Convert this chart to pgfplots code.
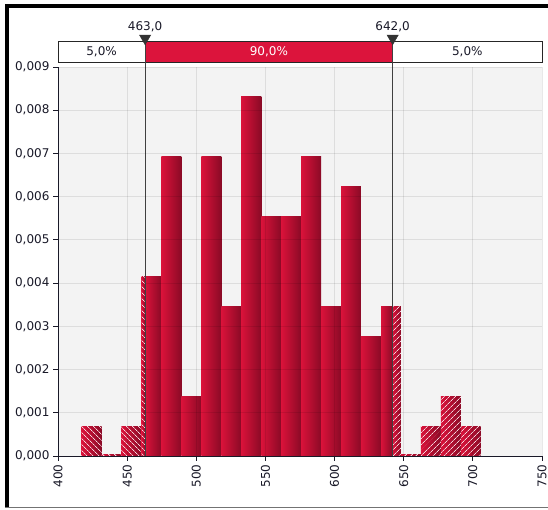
\documentclass[border=0pt]{standalone}
\usepackage{fontspec}
\setmainfont{DejaVu Sans}
\usepackage{pgfplots}
\pgfplotsset{compat=1.18}
\usetikzlibrary{patterns.meta}
\definecolor{crim}{RGB}{220,20,60}
\definecolor{barL}{RGB}{218,18,58}
\definecolor{barR}{RGB}{138,10,38}
\definecolor{bg}{RGB}{243,243,243}
\definecolor{txt}{RGB}{25,25,40}
\definecolor{hatch}{RGB}{245,215,222}
% one histogram bin: left edge, right edge, density
\newcommand{\sbar}[3]{\addplot[ybar interval, draw=none, left color=barL, right color=barR, forget plot] coordinates {(#1,#3) (#2,0)};}
\newcommand{\hbarL}[3]{\sbar{#1}{#2}{#3}\addplot[ybar interval, draw=none, pattern={Lines[angle=-45,distance=4pt,line width=0.8pt]}, pattern color=hatch, forget plot] coordinates {(#1,#3) (#2,0)};}
\newcommand{\hbarR}[3]{\sbar{#1}{#2}{#3}\addplot[ybar interval, draw=none, pattern={Lines[angle=45,distance=4pt,line width=0.8pt]}, pattern color=hatch, forget plot] coordinates {(#1,#3) (#2,0)};}
\begin{document}
\begin{tikzpicture}[x=1pt,y=1pt,font=\fontsize{12}{14}\selectfont]
\useasboundingbox (0,0) rectangle (548,510);
\fill[white] (0,0) rectangle (548,510);
\fill[black] (5,2) rectangle (8.5,506);
\fill[black] (5,502) rectangle (548,506);
\draw[black!55, line width=1.2pt] (5,2.3) -- (548,2.3);
\begin{axis}[
  at={(58pt,54pt)}, anchor=south west, scale only axis,
  width=484pt, height=389pt,
  xmin=400, xmax=750, ymin=0, ymax=0.009,
  axis x line*=bottom, axis y line*=left,
  axis line style={txt, line width=0.8pt},
  xtick={400,450,500,550,600,650,700,750},
  ytick={0,0.001,0.002,0.003,0.004,0.005,0.006,0.007,0.008,0.009},
  scaled y ticks=false,
  /pgf/number format/assume math mode=true,
  tick label style={font=\fontsize{12}{14}\selectfont, text=txt},
  yticklabel style={/pgf/number format/.cd, fixed, fixed zerofill, precision=3, use comma},
  xticklabel style={rotate=90, anchor=east, /pgf/number format/.cd, fixed, precision=0, 1000 sep={}},
  tick align=outside, major tick length=5pt,
  tick style={txt, line width=0.8pt},
  grid=major, grid style={black, opacity=0.09, line width=0.8pt},
  axis background/.style={fill=bg},
  axis on top, clip=false,
]
% left tail (hatched)
\hbarL{417.1}{431.5}{0.000693}
\hbarL{431.5}{445.9}{0.00004}
\hbarL{445.9}{460.4}{0.000693}
\hbarL{460.4}{463.0}{0.004158}
% central 90%
\sbar{463.0}{474.8}{0.004158}
\sbar{474.8}{489.3}{0.006930}
\sbar{489.3}{503.7}{0.001386}
\sbar{503.7}{518.1}{0.006930}
\sbar{518.1}{532.5}{0.003465}
\sbar{532.5}{547.0}{0.008316}
\sbar{547.0}{561.4}{0.005544}
\sbar{561.4}{575.8}{0.005544}
\sbar{575.8}{590.3}{0.006930}
\sbar{590.3}{604.7}{0.003465}
\sbar{604.7}{619.1}{0.006237}
\sbar{619.1}{633.6}{0.002772}
\sbar{633.6}{642.0}{0.003465}
% right tail (hatched)
\hbarR{642.0}{648.0}{0.003465}
\hbarR{648.0}{662.4}{0.00004}
\hbarR{662.4}{676.8}{0.000693}
\hbarR{676.8}{691.3}{0.001386}
\hbarR{691.3}{705.7}{0.000693}
% band
\filldraw[fill=white, draw=black!85, line width=0.8pt] (axis cs:400,0.009116) rectangle (axis cs:750,0.009602);
\filldraw[fill=crim, draw=black!85, line width=0.8pt] (axis cs:463,0.009116) rectangle (axis cs:642,0.009602);
\node[text=txt] at (axis cs:431.5,0.009359) {5,0\%};
\node[text=white] at (axis cs:552.5,0.009359) {90,0\%};
\node[text=txt] at (axis cs:696,0.009359) {5,0\%};
\node[text=txt] at (axis cs:463,0.009926) {463,0};
\node[text=txt] at (axis cs:642,0.009926) {642,0};
% markers
\addplot[black!75, line width=1pt] coordinates {(463,0) (463,0.009509)};
\addplot[black!75, line width=1pt] coordinates {(642,0) (642,0.009509)};
\addplot[only marks, mark=triangle*, mark size=6.5pt, mark options={rotate=180, fill=black!80, draw=black!80}]
  coordinates {(463,0.009664) (642,0.009664)};
\end{axis}
\end{tikzpicture}
\end{document}
